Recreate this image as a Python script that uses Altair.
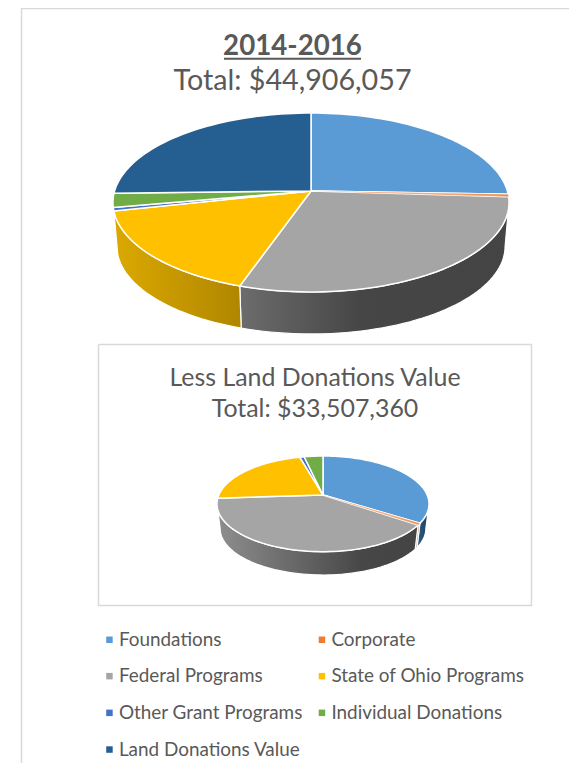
import math
import altair as alt
import pandas as pd

SERIES = ["Foundations", "Corporate", "Federal Programs", "State of Ohio Programs",
          "Other Grant Programs", "Individual Donations", "Land Donations Value"]
COLORS = ["#5b9bd5", "#ed7d31", "#a5a5a5", "#ffc000", "#4472c4", "#70ad47", "#255e91"]
AMOUNTS_ALL = [11480000, 200000, 13090000, 7320000, 270000, 1147360, 11398697]
AMOUNTS_LESS = [11480000, 200000, 13090000, 7320000, 270000, 1147360, 0]

WALLS_ALL = {
    "Federal Programs": [("#6c6c6c", 0.0), ("#464646", 0.45), ("#444444", 1.0)],
    "State of Ohio Programs": [("#dba900", 0.0), ("#b08600", 1.0)],
}
WALLS_LESS = {
    "Foundations": [("#2b5b84", 0.0), ("#1f3f5f", 1.0)],
    "Corporate": [("#b35f22", 0.0), ("#b35f22", 1.0)],
    "Federal Programs": [("#8e8e8e", 0.0), ("#474747", 0.72), ("#444444", 1.0)],
}

PIE_ALL = dict(cx=311.0, cy=191.0, a=196.4, b=88.0, k=-0.1285, shrink=0.98, cy2=235.0)
PIE_LESS = dict(cx=323.0, cy=495.0, a=104.2, b=46.2, k=-0.185, shrink=0.97, cy2=520.0)

TEXTS = [
    ("2014-2016", 292.5, 55, 27.7, "bold"),
    ("Total: $44,906,057", 292.5, 90, 28.7, "normal"),
    ("Less Land Donations Value", 315, 386, 24.9, "normal"),
    ("Total: $33,507,360", 315, 417, 24.9, "normal"),
]
FONT = "Lato"
GREY = "#595959"
BORDER = "#d9d9d9"

xs = alt.Scale(domain=[8, 569], nice=False, zero=False)
ys = alt.Scale(domain=[763, 8], nice=False, zero=False)
X = alt.X("x:Q", scale=xs, axis=None)
Y = alt.Y("y:Q", scale=ys, axis=None)


def project(p, t, bottom=False):
    u, v = math.sin(t), -math.cos(t)
    w = 1 + p["k"] * v
    s = p["shrink"] if bottom else 1.0
    cy = p["cy2"] if bottom else p["cy"]
    return p["cx"] + s * p["a"] * u / w, cy + s * p["b"] * v / w


def arc_angles(t0, t1):
    n = max(2, int(abs(t1 - t0) / math.radians(2)) + 1)
    return [t0 + (t1 - t0) * i / n for i in range(n + 1)]


def slices(amounts):
    total = sum(amounts)
    acc, out = 0.0, []
    for name, val in zip(SERIES, amounts):
        t0 = acc / total * 2 * math.pi
        acc += val
        t1 = acc / total * 2 * math.pi
        if val > 0:
            out.append((name, t0, t1))
    return out


def top_rows(p, amounts, pie):
    rows = []
    for name, t0, t1 in slices(amounts):
        pts = [(p["cx"], p["cy"])] + [project(p, t) for t in arc_angles(t0, t1)] + [(p["cx"], p["cy"])]
        rows += [dict(pie=pie, series=name, i=i, x=x, y=y) for i, (x, y) in enumerate(pts)]
    return rows


def wall_rows(p, name, t0, t1):
    lim = math.acos(p["k"])  # silhouette of the projected disc
    lo, hi = max(t0, lim), min(t1, 2 * math.pi - lim)
    if hi <= lo:
        return []
    ang = arc_angles(lo, hi)
    pts = [project(p, t) for t in ang] + [project(p, t, True) for t in reversed(ang)]
    pts.append(pts[0])
    return [dict(series=name, i=i, x=x, y=y) for i, (x, y) in enumerate(pts)]


layers = []

# page frame and inner box
frame = pd.DataFrame({"x": [21.5, 21.5, 569], "y": [763, 8.5, 8.5], "i": [0, 1, 2]})
layers.append(alt.Chart(frame).mark_line(stroke=BORDER, strokeWidth=1.5, clip=False).encode(x=X, y=Y, order="i:Q"))
box = pd.DataFrame({"x": [98.5, 531.5, 531.5, 98.5, 98.5], "y": [344.5, 344.5, 605.5, 605.5, 344.5], "i": range(5)})
layers.append(alt.Chart(box).mark_line(stroke=BORDER, strokeWidth=1.5).encode(x=X, y=Y, order="i:Q"))

# walls
for p, amounts, walls in [(PIE_ALL, AMOUNTS_ALL, WALLS_ALL), (PIE_LESS, AMOUNTS_LESS, WALLS_LESS)]:
    for name, t0, t1 in slices(amounts):
        if name not in walls:
            continue
        rows = wall_rows(p, name, t0, t1)
        if not rows:
            continue
        grad = alt.LinearGradient(gradient="linear", x1=0, x2=1, y1=0, y2=0,
                                  stops=[alt.GradientStop(color=c, offset=o) for c, o in walls[name]])
        layers.append(alt.Chart(pd.DataFrame(rows)).mark_line(fill=grad, stroke="white", strokeWidth=1.2)
                      .encode(x=X, y=Y, order="i:Q"))

# top faces, carrying the legend
tops = pd.DataFrame(top_rows(PIE_ALL, AMOUNTS_ALL, "all") + top_rows(PIE_LESS, AMOUNTS_LESS, "less"))
legend = alt.Legend(title=None, orient="none", direction="horizontal", legendX=92, legendY=622, columns=2,
                    symbolType="square", symbolSize=42, symbolStrokeWidth=0, labelFont=FONT, labelFontSize=18.9,
                    labelColor=GREY, labelOffset=0, labelLimit=300, rowPadding=16.7, columnPadding=9.5)
layers.append(alt.Chart(tops).mark_line(stroke="white", strokeWidth=1.5).encode(
    x=X, y=Y, order="i:Q", detail="pie:N",
    fill=alt.Fill("series:N", scale=alt.Scale(domain=SERIES, range=COLORS), sort=SERIES, legend=legend)))

# the corporate sliver is thinner than the white outline, so it is laid over again
sliver = tops[tops["series"] == "Corporate"]
layers.append(alt.Chart(sliver).mark_line(fill=COLORS[1], fillOpacity=0.65, strokeWidth=0, strokeOpacity=0)
              .encode(x=X, y=Y, order="i:Q", detail="pie:N"))

# titles
for text, x, y, size, weight in TEXTS:
    layers.append(alt.Chart(pd.DataFrame({"x": [x], "y": [y], "t": [text]}))
                  .mark_text(font=FONT, fontSize=size, fontWeight=weight, color=GREY, align="center", baseline="alphabetic")
                  .encode(x=X, y=Y, text="t:N"))
under = pd.DataFrame({"x": [224, 361], "y": [58.8, 58.8], "i": [0, 1]})
layers.append(alt.Chart(under).mark_line(stroke=GREY, strokeWidth=2).encode(x=X, y=Y, order="i:Q"))

chart = alt.layer(*layers).properties(width=561, height=755, padding=0,
    autosize=alt.AutoSizeParams(type="none")).configure_view(stroke=None)
chart.save("out.html", embed_options={"renderer": "svg", "actions": False})
